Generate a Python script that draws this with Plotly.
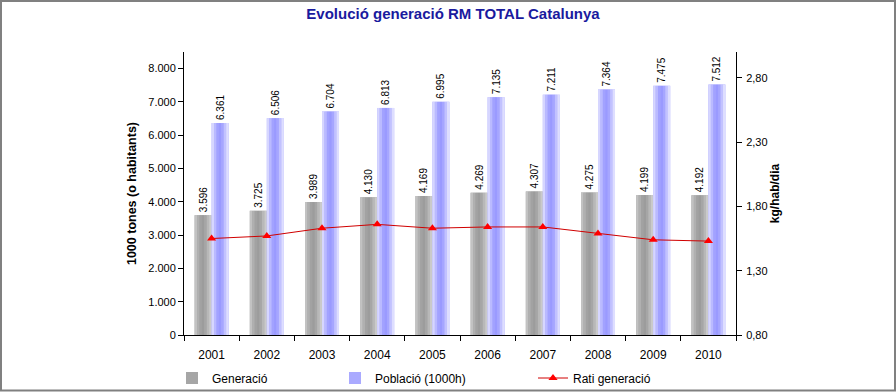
import plotly.graph_objects as go

years = ["2001", "2002", "2003", "2004", "2005", "2006", "2007", "2008", "2009", "2010"]
generacio = [3596, 3725, 3989, 4130, 4169, 4269, 4307, 4275, 4199, 4192]
poblacio = [6361, 6506, 6704, 6813, 6995, 7135, 7211, 7364, 7475, 7512]
rati = [1.55, 1.57, 1.63, 1.66, 1.63, 1.64, 1.64, 1.59, 1.54, 1.53]

left_ticks = [0, 1000, 2000, 3000, 4000, 5000, 6000, 7000, 8000]
right_ticks = [0.80, 1.30, 1.80, 2.30, 2.80]

FONT = "Liberation Sans, Arial, sans-serif"

# gradient shades (left -> right) used to mimic the shaded bars
gray_shades = ["#C2C2C2", "#B0B0B0", "#A2A2A2", "#9C9C9C", "#A6A6A6", "#B8B8B8", "#CACACA"]
blue_shades = ["#D6D6FF", "#BABAFF", "#A2A2FF", "#9A9AFF", "#A6A6FF", "#C2C2FF", "#DEDEFF"]

BW = 0.308  # bar width in category units

fig = go.Figure()

def add_bar(values, name, base_color, shades, offset, legend):
    fig.add_trace(go.Bar(
        x=years, y=values, name=name, legend=legend,
        offset=offset, width=BW,
        marker=dict(color=base_color, line=dict(width=0)),
        text=values, texttemplate="%{y:,d}", textposition="outside",
        textangle=-90, constraintext="none",
        textfont=dict(size=10, color="black", family=FONT),
        cliponaxis=False, hoverinfo="x+y",
    ))
    n = len(shades)
    sw = BW / n
    for i, c in enumerate(shades):
        fig.add_trace(go.Bar(
            x=years, y=values, showlegend=False,
            offset=offset + i * sw, width=sw * 1.02,
            marker=dict(color=c, line=dict(width=0)),
            hoverinfo="skip",
        ))

add_bar(generacio, "Generació", "#A6A6A6", gray_shades, -BW, "legend")
add_bar(poblacio, "Població (1000h)", "#AAAAFF", blue_shades, 0.0, "legend2")

fig.add_trace(go.Scatter(
    x=years, y=rati, name="Rati generació", yaxis="y2", legend="legend3",
    mode="lines+markers",
    line=dict(color="#D00000", width=1),
    marker=dict(symbol="triangle-up", size=8, color="#FF0000"),
))

L, R, T, B = 184, 736, 52, 335
W, H = 896, 392
pw, ph = R - L, B - T

def leg(xpix):
    return dict(orientation="h", x=(xpix - L) / pw, xanchor="left",
                y=-(378 - B) / ph, yanchor="middle",
                font=dict(size=12, family=FONT),
                bgcolor="rgba(0,0,0,0)", borderwidth=0)

fig.update_layout(
    width=W, height=H,
    margin=dict(l=L, r=W - R, t=T, b=H - B, autoexpand=False),
    paper_bgcolor="white", plot_bgcolor="white",
    separators=",.",
    font=dict(family=FONT, size=12, color="black"),
    title=dict(text="<b>Evolució generació RM TOTAL Catalunya</b>",
               x=453 / W, xanchor="center", y=1 - 14 / H, yanchor="middle",
               font=dict(size=15, color="#1A1A9E", family=FONT)),
    barmode="overlay",
    showlegend=True,
    legend=leg(212 - 40),
    legend2=leg(375 - 40),
    legend3=leg(573 - 40),
    xaxis=dict(range=[-0.5, 9.5], showline=True, linecolor="black", linewidth=1,
               ticks="outside", ticklen=5, tickcolor="black",
               tickson="boundaries", showgrid=False, automargin=False,
               ticklabelstandoff=9,
               tickfont=dict(size=12)),
    yaxis=dict(range=[0, 8490], tickvals=left_ticks, tickformat=",d",
               showline=True, linecolor="black", linewidth=1,
               ticks="outside", ticklen=5, tickcolor="black",
               showgrid=False, zeroline=False, tickfont=dict(size=11),
               automargin=False,
               title=dict(text="<b>1000 tones (o habitants)</b>",
                          font=dict(size=12.5), standoff=8)),
    yaxis2=dict(range=[0.8, 3.0], tickvals=right_ticks, tickformat=".2f",
                overlaying="y", side="right",
                showline=True, linecolor="black", linewidth=1,
                ticks="outside", ticklen=5, tickcolor="black",
                showgrid=False, zeroline=False, tickfont=dict(size=11),
                automargin=False, ticklabelstandoff=2,
                title=dict(text="<b>kg/hab/dia</b>", font=dict(size=12),
                           standoff=0)),
    shapes=[dict(type="rect", xref="paper", yref="paper",
                 x0=(1 - L) / pw, x1=(895 - L) / pw,
                 y0=(B - 390.5) / ph, y1=(B - 1) / ph,
                 line=dict(color="#808080", width=2), fillcolor="rgba(0,0,0,0)")],
)

fig.write_html("out.html", config={"displayModeBar": False},
               post_script="document.body.style.margin='0';document.body.style.padding='0';")
